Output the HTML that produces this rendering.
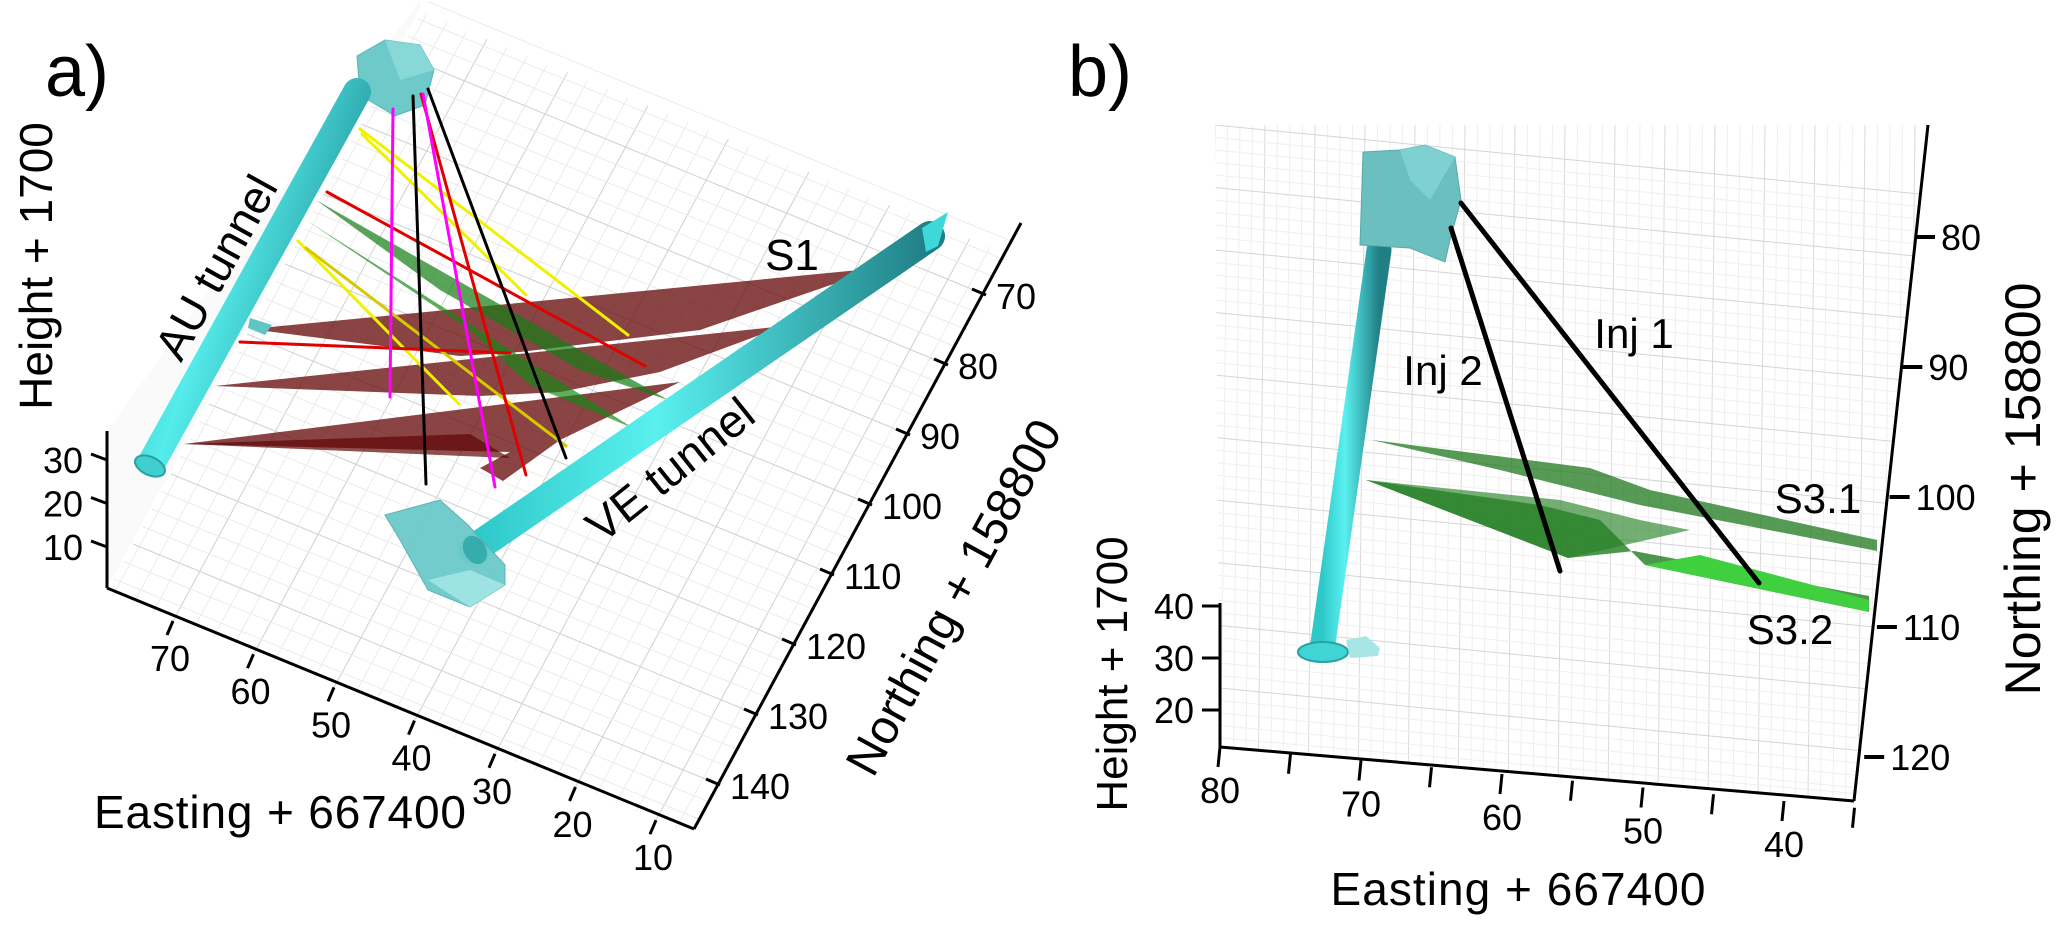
<!DOCTYPE html>
<html><head><meta charset="utf-8"><style>
html,body{margin:0;padding:0;background:#fff;width:2067px;height:931px;overflow:hidden;}
svg{display:block;font-family:"Liberation Sans",Arial,sans-serif;}
</style></head><body>
<svg id="fig" width="2067" height="931" viewBox="0 0 2067 931" xmlns="http://www.w3.org/2000/svg">
<defs>
<linearGradient id="tubeA" x1="0" y1="0" x2="1" y2="0.55"><stop offset="0" stop-color="#2fb8b8"/><stop offset="0.45" stop-color="#55ecec"/><stop offset="1" stop-color="#1f8f95"/></linearGradient>
<linearGradient id="tubeV" x1="0" y1="0" x2="1" y2="0"><stop offset="0" stop-color="#2fc8c8"/><stop offset="0.4" stop-color="#5af0f0"/><stop offset="1" stop-color="#1f7f85"/></linearGradient>
<clipPath id="clipB"><polygon points="1215,125 1930,125 1854,801 1220,747"/></clipPath>
</defs>
<g id="gridA"></g>
<g id="gridB" clip-path="url(#clipB)"></g>
<g id="panelA"></g>
<g id="panelB"></g>
<g id="labels">
<text x="77" y="96" font-size="72" text-anchor="middle">a)</text>
<text x="1100" y="96" font-size="72" text-anchor="middle">b)</text>
<text transform="translate(52,266) rotate(-90)" font-size="46" text-anchor="middle">Height + 1700</text>
<text x="280" y="828" font-size="46" text-anchor="middle" textLength="372">Easting + 667400</text>
<text transform="translate(968,605) rotate(-61.4)" font-size="48" text-anchor="middle">Northing + 158800</text>
<text transform="translate(230,275) rotate(-61)" font-size="46" text-anchor="middle">AU tunnel</text>
<text transform="translate(680,482) rotate(-38.6)" font-size="46" text-anchor="middle">VE tunnel</text>
<text x="792" y="270" font-size="44" text-anchor="middle">S1</text>
<text transform="translate(1127,674) rotate(-90)" font-size="44" text-anchor="middle">Height + 1700</text>
<text x="1518" y="905" font-size="46" text-anchor="middle" textLength="375">Easting + 667400</text>
<text transform="translate(2040,489) rotate(-90)" font-size="50" text-anchor="middle">Northing + 158800</text>
<text x="1634" y="348" font-size="42" text-anchor="middle">Inj 1</text>
<text x="1443" y="385" font-size="42" text-anchor="middle">Inj 2</text>
<text x="1818" y="513" font-size="42" text-anchor="middle">S3.1</text>
<text x="1790" y="644" font-size="42" text-anchor="middle">S3.2</text>
</g>
</svg>
<script>
// ---- data ----
const aHeightTicks=[30,20,10];
const aEastTicks=[70,60,50,40,30,20,10];
const aNorthTicks=[70,80,90,100,110,120,130,140];
const bHeightTicks=[40,30,20];
const bEastTicks=[80,70,60,50,40];
const bNorthTicks=[80,90,100,110,120];

const NS="http://www.w3.org/2000/svg";
function mk(tag,parent,attrs){const e=document.createElementNS(NS,tag);for(const k in attrs)e.setAttribute(k,attrs[k]);parent.appendChild(e);return e;}
const A=document.getElementById('panelA'),B=document.getElementById('panelB');
const GA=document.getElementById('gridA'),GB=document.getElementById('gridB');

const aH=v=>({x:107,y:460+(30-v)*4.35});
const aE=v=>({x:173+(70-v)*8.05,y:621+(70-v)*3.32});
const aN=v=>({x:986+(v-70)*(-3.8),y:295+(v-70)*7.0});
const bH=v=>({x:1220,y:606+(40-v)*5.2});
const bE=v=>({x:1220+(80-v)*14.1,y:747+(80-v)*1.35});
const bN=v=>({x:1915+(v-80)*(-1.27),y:237+(v-80)*13.0});

// ---- grid panel a (floor) ----
mk('polygon',GA,{points:'107,431 107,588 420,8 420,0',fill:'#f7f7f7',opacity:0.6});
for(let i=7.5;i<=77.5;i+=2.5){
  const p=aE(i);
  const l=mk('line',GA,{x1:p.x,y1:p.y,x2:p.x+327*0.96,y2:p.y-606*0.96,stroke:(i%10===0)?'#d0d0d0':'#ebebeb','stroke-width':1});
  
  
}
for(let i=62.5;i<=145;i+=2.5){
  const p=aN(i);
  const l=mk('line',GA,{x1:p.x,y1:p.y,x2:p.x-587,y2:p.y-241,stroke:(i%10===0)?'#d0d0d0':'#ebebeb','stroke-width':1});
  
  
}

// ---- grid panel b ----
for(let i=0;i<58;i++){
  const x=1215+i*12.5;
  const l=mk('line',GB,{x1:x,y1:125,x2:x-7,y2:800,stroke:(i%4===0)?'#dadada':'#efefef'});
  
  
}
for(let i=0;i<50;i++){
  const y=125+i*12.5;
  const l=mk('line',GB,{x1:1215,y1:y,x2:1930,y2:Math.min(y+70,800),stroke:(i%5===0)?'#d5d5d5':'#efefef'});
  
  
}

function axisLine(p,a,b,name){const l=mk('line',p,{x1:a.x,y1:a.y,x2:b.x,y2:b.y,stroke:'#000','stroke-width':3});}
axisLine(A,{x:107,y:431},{x:107,y:588},'a-height-axis');
axisLine(A,{x:107,y:588},{x:694,y:829},'a-easting-axis');
axisLine(A,{x:694,y:829},{x:1021,y:223},'a-northing-axis');
aHeightTicks.forEach(v=>{const p=aH(v);
  mk('line',A,{x1:p.x,y1:p.y,x2:p.x-16,y2:p.y-6,stroke:'#000','stroke-width':3});
  const t=mk('text',A,{x:p.x-24,y:p.y+13,'font-size':36,'text-anchor':'end'});t.textContent=v;
  
  });
aEastTicks.forEach(v=>{const p=aE(v);
  mk('line',A,{x1:p.x,y1:p.y,x2:p.x-6,y2:p.y+14,stroke:'#000','stroke-width':3});
  const t=mk('text',A,{x:p.x-3,y:p.y+50,'font-size':36,'text-anchor':'middle'});t.textContent=v;
  
  });
aNorthTicks.forEach(v=>{const p=aN(v);
  mk('line',A,{x1:p.x,y1:p.y,x2:p.x-14,y2:p.y-6,stroke:'#000','stroke-width':3});
  const t=mk('text',A,{x:p.x+10,y:p.y+14,'font-size':36,'text-anchor':'start'});t.textContent=v;
  
  });

axisLine(B,{x:1220,y:603},{x:1220,y:747},'b-height-axis');
axisLine(B,{x:1220,y:747},{x:1854,y:801},'b-easting-axis');
axisLine(B,{x:1854,y:801},{x:1928,y:125},'b-northing-axis');
bHeightTicks.forEach(v=>{const p=bH(v);
  mk('line',B,{x1:p.x,y1:p.y,x2:p.x-18,y2:p.y,stroke:'#000','stroke-width':3});
  const t=mk('text',B,{x:p.x-26,y:p.y+13,'font-size':36,'text-anchor':'end'});t.textContent=v;
  
  });
for(let v=80;v>=35;v-=5){const p=bE(v);mk('line',B,{x1:p.x,y1:p.y,x2:p.x-2,y2:p.y+20,stroke:'#000','stroke-width':3});}
bEastTicks.forEach(v=>{const p=bE(v);
  const t=mk('text',B,{x:p.x,y:p.y+56,'font-size':36,'text-anchor':'middle'});t.textContent=v;
  
  });
bNorthTicks.forEach(v=>{const p=bN(v);
  mk('line',B,{x1:p.x,y1:p.y,x2:p.x+20,y2:p.y,stroke:'#000','stroke-width':4});
  const t=mk('text',B,{x:p.x+26,y:p.y+13,'font-size':36,'text-anchor':'start'});t.textContent=v;
  
  });
</script>

<script>
(function(){
const NS="http://www.w3.org/2000/svg";
const A=document.getElementById('panelA'),B=document.getElementById('panelB');
function mk(tag,parent,attrs){const e=document.createElementNS(NS,tag);for(const k in attrs)e.setAttribute(k,attrs[k]);parent.appendChild(e);return e;}
function poly(p,pts,fill,name,extra){const e=mk('polygon',p,Object.assign({points:pts,fill:fill},extra||{}));return e;}
function line(p,x1,y1,x2,y2,c,w,name){const e=mk('line',p,{x1,y1,x2,y2,stroke:c,'stroke-width':w,'stroke-linecap':'round'});return e;}

const br='rgba(105,15,15,0.78)';
poly(A,'250,329 880,268 700,330 520,352 460,356',br,'s1-plane-1');
poly(A,'215,386 784,326 660,372 560,392 480,396',br,'s1-plane-2');
poly(A,'184,444 680,382 560,440 503,481 480,468 510,452',br,'s1-plane-3');
poly(A,'184,444 470,434 510,458',"rgba(95,5,5,0.7)",'s1-plane-3-dark');
poly(A,'316,200 668,400 580,370 440,290',"rgba(20,125,20,0.7)",'s2-plane-1');
poly(A,'306,220 633,428 530,385 470,330',"rgba(20,135,20,0.68)",'s2-plane-2');
poly(A,'357,56 385,40 420,45 434,70 425,105 395,116 360,95',"#6ec9c9",'au-chamber',{stroke:'#5ab5b5','stroke-width':1});
poly(A,'385,40 420,45 434,70 400,80',"#88d8d8",'au-chamber-face');
line(A,357,92,152,462,'url(#tubeA)',28,'au-tunnel');
mk('ellipse',A,{cx:150,cy:466,rx:16,ry:9,fill:'#3fcfcf',stroke:'#2aa0a0','stroke-width':2,transform:'rotate(25 150 466)'});
poly(A,'250,318 272,325 265,335 248,328',"#5fc5c5",'au-tunnel-stub');
line(A,360,129,628,335,'#f0f000',3,'yellow-line-1');
line(A,362,134,526,295,'#f0f000',3,'yellow-line-2');
line(A,298,241,459,404,'#f0f000',3,'yellow-line-3');
line(A,306,248,566,446,'#d8c800',3,'yellow-line-4');
line(A,327,192,645,366,'#e00000',3,'red-line-1');
line(A,240,342,510,353,'#e00000',3,'red-line-2');
line(A,421,94,526,475,'#e00000',3,'red-line-3');
line(A,393,109,390,397,'#ff00ff',3,'magenta-line-1');
line(A,423,94,495,487,'#ff00ff',3,'magenta-line-2');
line(A,413,96,426,484,'#000',3,'black-line-1');
line(A,428,89,566,458,'#000',3,'black-line-2');
line(A,474,549,930,236,'url(#tubeV)',30,'ve-tunnel');
poly(A,'922,228 948,212 938,246 926,252',"#3fd8d8",'ve-tunnel-end');
poly(A,'385,515 440,500 468,525 505,565 505,585 470,607 428,590 400,540',"#6ccaca",'ve-chamber',{stroke:'#55b0b0','stroke-width':1,opacity:0.95});
poly(A,'428,580 470,607 505,585 470,570',"#9ee3e3",'ve-chamber-face');
mk('ellipse',A,{cx:475,cy:550,rx:11,ry:15,fill:'#2aa5a5',opacity:0.8,transform:'rotate(-30 475 550)'});

poly(B,'1372,440 1590,468 1650,490 1877,540 1877,551 1640,505 1500,470',"rgba(30,120,30,0.75)",'s3-1-plane');
poly(B,'1366,480 1568,558 1634,551 1869,596 1869,612 1645,565 1600,520 1540,505',"rgba(30,120,30,0.78)",'s3-2-plane');
poly(B,'1645,565 1869,612 1869,600 1700,555',"#3fcf3f",'s3-2-light-plane');
poly(B,'1366,480 1560,500 1640,520 1690,530 1568,558',"rgba(40,130,40,0.65)",'s3-2-plane-upper');
line(B,1379,250,1322,650,'url(#tubeV)',25,'b-tunnel');
mk('ellipse',B,{cx:1323,cy:652,rx:25,ry:10,fill:'#40d4d4',stroke:'#2aa0a0','stroke-width':2});
poly(B,'1346,640 1366,636 1380,648 1378,656 1350,658',"#a8e6e6",'b-tunnel-cap');
poly(B,'1363,152 1400,150 1425,145 1455,157 1461,200 1450,240 1445,262 1410,248 1360,245',"#6bbfbf",'b-chamber',{stroke:'#5aaaaa','stroke-width':1});
poly(B,'1400,150 1425,145 1455,157 1430,200 1410,180',"#7fd0d0",'b-chamber-face');
line(B,1461,203,1759,583,'#000',5,'inj1-line');
line(B,1451,228,1560,571,'#000',5,'inj2-line');
})();
</script>
</body></html>
